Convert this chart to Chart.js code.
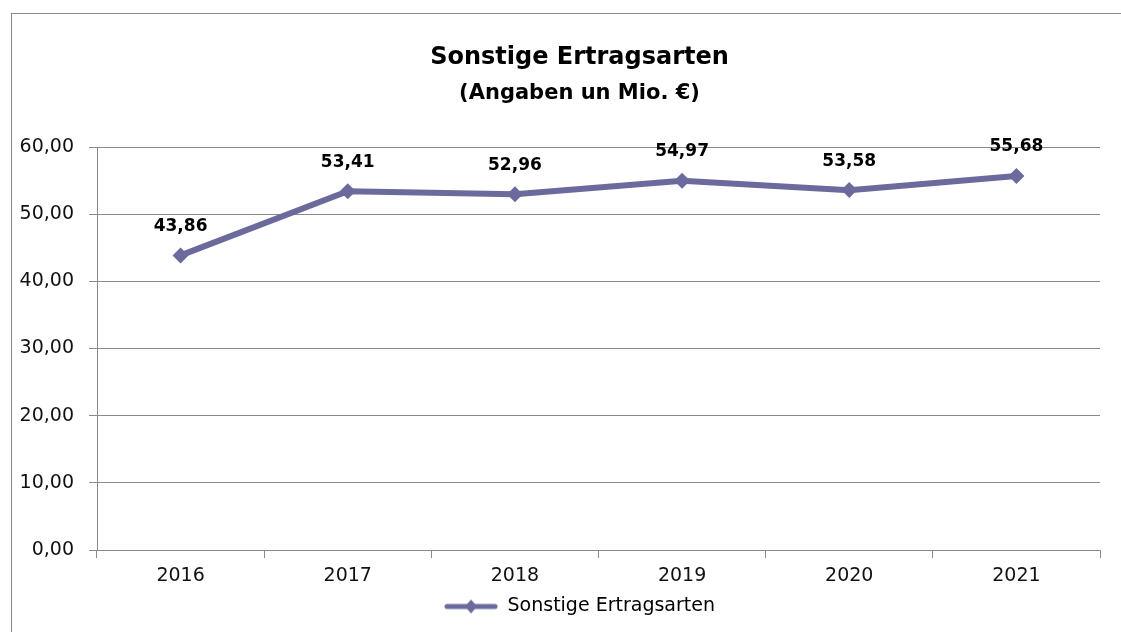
<!DOCTYPE html>
<html lang="de">
<head>
<meta charset="utf-8">
<title>Sonstige Ertragsarten</title>
<script src="https://cdn.jsdelivr.net/npm/chart.js@4.4.1/dist/chart.umd.min.js"></script>
<style>
  html, body { margin: 0; padding: 0; background: #fff; overflow: hidden; }
  #wrap { position: relative; width: 1121px; height: 632px; }
</style>
</head>
<body>
<div id="wrap"><canvas id="ertragChart"></canvas></div>
<script>
/* ================= DATA ================= */
const jahre = ["2016", "2017", "2018", "2019", "2020", "2021"];
const ertraege = [43.86, 53.41, 52.96, 54.97, 53.58, 55.68];
const yTicks = [0, 10, 20, 30, 40, 50, 60];

const LINIE = "#6a6a9c";
const GRAU = "#8a8a8a";

// 43.86 -> "43,86"
const fmt = v => v.toFixed(2).replace(".", ",");

/* ================= LEGEND ICON (line + diamond) ================= */
function makeLegendIcon() {
  const c = document.createElement("canvas");
  c.width = 54;
  c.height = 16;
  const g = c.getContext("2d");
  g.strokeStyle = LINIE;
  g.lineWidth = 5;
  g.lineCap = "round";
  g.beginPath();
  g.moveTo(3, 8);
  g.lineTo(51, 8);
  g.stroke();
  g.fillStyle = LINIE;
  g.beginPath();
  g.moveTo(27, 1);
  g.lineTo(33, 8);
  g.lineTo(27, 15);
  g.lineTo(21, 8);
  g.closePath();
  g.fill();
  return c;
}
const legendIcon = makeLegendIcon();

/* ================= PLUGINS ================= */
// white background + grey frame like the original chart object
const rahmen = {
  id: "rahmen",
  beforeDraw(chart) {
    const { ctx, width, height } = chart;
    ctx.save();
    ctx.fillStyle = "#fff";
    ctx.fillRect(0, 0, width, height);
    ctx.strokeStyle = GRAU;
    ctx.lineWidth = 1;
    ctx.strokeRect(11.5, 13.5, width + 20, height + 20);
    ctx.restore();
  }
};

// value labels above each point
const wertLabels = {
  id: "wertLabels",
  afterDatasetsDraw(chart) {
    const { ctx } = chart;
    const meta = chart.getDatasetMeta(0);
    ctx.save();
    ctx.font = "bold 17px 'DejaVu Sans'";
    ctx.fillStyle = "#000";
    ctx.textAlign = "center";
    ctx.textBaseline = "middle";
    meta.data.forEach((pt, i) => {
      ctx.fillText(fmt(ertraege[i]), pt.x, pt.y - 29);
    });
    ctx.restore();
  }
};

/* ================= CHART ================= */
Chart.defaults.font.family = "'DejaVu Sans', sans-serif";
Chart.defaults.color = "#000";

const ctx = document.getElementById("ertragChart").getContext("2d");

// the original chart object is wider than the screenshot (cut on the right),
// so the layout runs past the canvas edge to keep title/legend centred the same way
new Chart(ctx, {
  type: "line",
  data: {
    labels: jahre,
    datasets: [{
      label: "Sonstige Ertragsarten",
      data: ertraege,
      borderColor: LINIE,
      backgroundColor: LINIE,
      borderWidth: 6,
      tension: 0,
      pointStyle: "rectRot",
      pointRadius: 8,
      pointHoverRadius: 8,
      pointBorderWidth: 0,
      pointBackgroundColor: LINIE
    }]
  },
  options: {
    responsive: true,
    maintainAspectRatio: false,
    animation: false,
    layout: {
      padding: { top: 43, left: 11, right: -27, bottom: 6 }
    },
    scales: {
      x: {
        offset: true,
        grid: {
          display: true,
          drawOnChartArea: false,
          drawTicks: true,
          tickLength: 8,
          color: GRAU,
          offset: true
        },
        border: { color: GRAU },
        ticks: {
          font: { size: 19 },
          color: "#111",
          padding: 7,
          maxRotation: 0
        },
        afterFit: s => { s.height = 37; }
      },
      y: {
        min: 0,
        max: 60,
        grid: {
          color: GRAU,
          tickLength: 8
        },
        border: { color: GRAU },
        ticks: {
          font: { size: 19 },
          color: "#111",
          padding: 15,
          callback: v => fmt(v)
        },
        afterBuildTicks: axis => {
          axis.ticks = yTicks.map(v => ({ value: v }));
        },
        afterFit: s => { s.width = 86; }
      },
      // empty spacer on the right (cut-off part of the original chart)
      rand: {
        type: "linear",
        position: "right",
        display: true,
        grid: { display: false, drawTicks: false },
        border: { display: false },
        ticks: { display: false },
        afterFit: s => { s.width = 48; }
      }
    },
    plugins: {
      title: {
        display: true,
        text: "Sonstige Ertragsarten",
        color: "#000",
        font: { size: 24, weight: "bold" },
        padding: { top: 0, bottom: 4 }
      },
      subtitle: {
        display: true,
        text: "(Angaben un Mio. €)",
        color: "#000",
        font: { size: 21, weight: "bold" },
        padding: { top: 5, bottom: 41 }
      },
      legend: {
        position: "bottom",
        labels: {
          usePointStyle: true,
          pointStyleWidth: 54,
          padding: 10,
          color: "#000",
          font: { size: 19 },
          generateLabels: chart => {
            const items = Chart.defaults.plugins.legend.labels.generateLabels(chart);
            items.forEach(it => { it.pointStyle = legendIcon; });
            return items;
          }
        }
      },
      tooltip: { enabled: false }
    }
  },
  plugins: [rahmen, wertLabels]
});
</script>
</body>
</html>
